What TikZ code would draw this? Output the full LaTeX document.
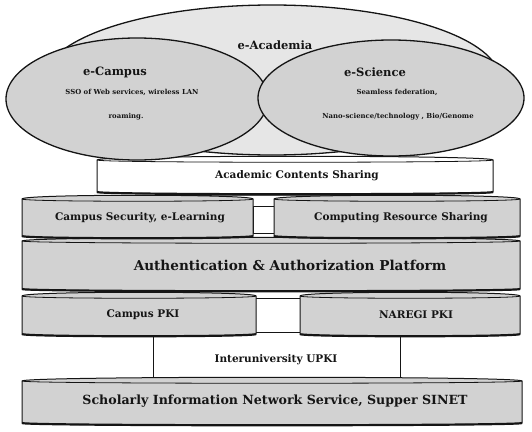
\documentclass[tikz,border=0pt]{standalone}
\usepackage{fontspec}
\setmainfont{DejaVu Serif}
\usepackage{tikz}
\definecolor{ink}{HTML}{151515}
\definecolor{tone}{HTML}{D2D2D2}
\definecolor{softtone}{HTML}{E6E6E6}
\tikzset{
  bubble/.style={draw=ink, line width=1.3pt, fill=tone},
  slab/.style={draw=ink, line width=1pt, fill=tone},
  plainslab/.style={draw=ink, line width=1pt, fill=white},
  rim/.style={draw=ink, line width=0.8pt},
  base/.style={draw=ink, line width=2.2pt},
  bigtxt/.style={font=\bfseries\fontsize{11.5}{13}\selectfont, text=ink},
  midtxt/.style={font=\bfseries\fontsize{10.5}{12}\selectfont, text=ink},
  smalltxt/.style={font=\bfseries\fontsize{6.9}{8}\selectfont, text=ink}
}
% x1, x2, top, bottom, style
\newcommand{\Slab}[5]{%
  \filldraw[#5] (#1,#3) -- (#1,#4) .. controls (#1,#4+3) and (#2,#4+3) .. (#2,#4)
    -- (#2,#3) .. controls (#2,#3-5) and (#1,#3-5) .. cycle;
  \draw[rim] (#1,#3) .. controls (#1,#3+3) and (#2,#3+3) .. (#2,#3);
  \draw[base] (#1,#4) .. controls (#1,#4+3) and (#2,#4+3) .. (#2,#4);
}

\begin{document}
\begin{tikzpicture}[x=1pt, y=-1pt]
  \useasboundingbox (0,0) rectangle (532,431);
  % outer bubble
  \filldraw[bubble, fill=softtone] (272,80) ellipse [x radius=228, y radius=75];
  \node[bigtxt] (academia) at (275,45) {e-Academia};
  % contents layer sits under the two bubbles
  \Slab{97}{493}{160}{192}{plainslab}
  \node[midtxt] (contents) at (297,176) {Academic Contents Sharing};
  % the two bubbles
  \filldraw[bubble] (137,99) ellipse [x radius=131, y radius=61];
  \filldraw[bubble] (391,98) ellipse [x radius=133, y radius=58];
  \node[bigtxt] (campus) at (115,72) {e-Campus};
  \node[smalltxt] (sso) at (132,92) {SSO of Web services, wireless LAN};
  \node[smalltxt] (roam) at (126,117) {roaming.};
  \node[bigtxt] (science) at (375,72) {e-Science};
  \node[smalltxt] (fed) at (397,92) {Seamless federation,};
  \node[smalltxt] (nano) at (398,117) {Nano-science/technology , Bio/Genome};
  % service layer
  \Slab{22}{520}{241}{289}{slab}
  \node[bigtxt, font=\bfseries\fontsize{13.6}{15}\selectfont] (authz) at (290,265) {Authentication \& Authorization Platform};
  \draw[rim] (22,199) .. controls (22,194) and (520,194) .. (520,199);
  \filldraw[plainslab] (253,206) rectangle (274,233);
  \Slab{22}{253}{199}{236}{slab}
  \Slab{274}{520}{199}{236}{slab}
  \node[midtxt] (security) at (140,218) {Campus Security, e-Learning};
  \node[midtxt] (compute) at (401,218) {Computing Resource Sharing};
  % PKI layer
  \filldraw[plainslab] (153,330) rectangle (400,378);
  \node[midtxt] (upki) at (276,360) {Interuniversity UPKI};
  \filldraw[plainslab] (255,298) rectangle (300,332);
  \Slab{22}{256}{296}{334}{slab}
  \Slab{300}{520}{296}{334}{slab}
  \node[midtxt] (cpki) at (143,315) {Campus PKI};
  \node[midtxt] (npki) at (416,315) {NAREGI PKI};
  % network layer
  \Slab{22}{522}{381}{423}{slab}
  \node[bigtxt, font=\bfseries\fontsize{12.6}{14}\selectfont] (sinet) at (275,401) {Scholarly Information Network Service, Supper SINET};
\end{tikzpicture}
\end{document}
